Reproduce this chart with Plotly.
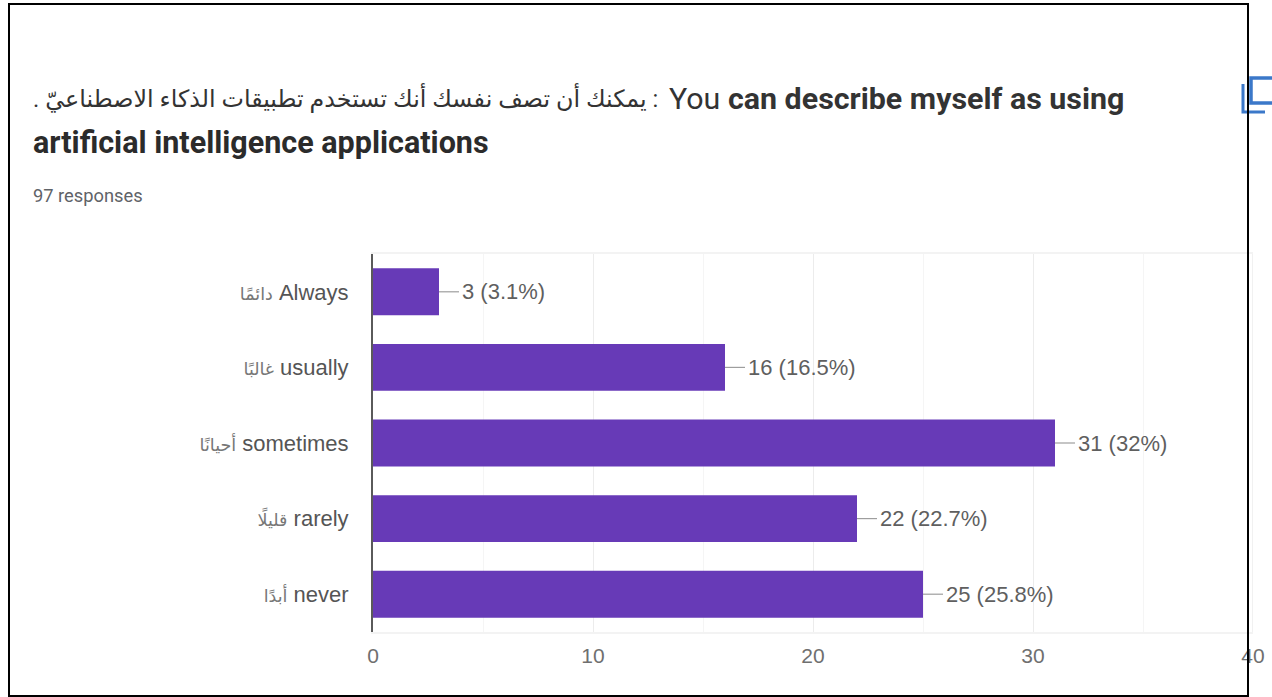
import plotly.graph_objects as go

# Survey results
arabic_names = ["دائمًا", "غالبًا", "أحيانًا", "قليلًا", "أبدًا"]
english_names = ["Always", "usually", "sometimes", "rarely", "never"]
counts = [3, 16, 31, 22, 25]
value_labels = ["3 (3.1%)", "16 (16.5%)", "31 (32%)", "22 (22.7%)", "25 (25.8%)"]
x_ticks = [0, 10, 20, 30, 40]
x_minor_ticks = [5, 15, 25, 35]

WIDTH, HEIGHT = 1272, 697
BAR_COLOR = "#673AB7"
ICON_COLOR = "#3b78c9"
BODY_FONT = "Liberation Sans, Arial, DejaVu Sans"
HEAD_FONT = "Roboto, DejaVu Sans"


def px(x):
    return x / WIDTH


def py(y):
    return 1 - y / HEIGHT


categories = english_names
tick_text = [
    f'<span style="font-size:17.5px;color:#777777">{ar}</span> {en}'
    for ar, en in zip(arabic_names, english_names)
]

fig = go.Figure()
fig.add_trace(go.Bar(
    y=categories,
    x=counts,
    orientation="h",
    width=0.62,
    marker=dict(color=BAR_COLOR, line=dict(width=0)),
    error_x=dict(type="constant", value=0.91, valueminus=0, symmetric=False,
                 color="#9e9e9e", thickness=1.2, width=0),
    hoverinfo="skip",
))

annotations = []
# Value labels to the right of each leader line
for value, label, cat in zip(counts, value_labels, categories):
    annotations.append(dict(
        x=value, y=cat, xref="x", yref="y", text=label, showarrow=False,
        xanchor="left", yanchor="middle", xshift=21,
        font=dict(family=BODY_FONT, size=22, color="#5f5f5f"),
    ))


def head(x, y, text, size, color, anchor="left", bold=False):
    annotations.append(dict(
        x=px(x), y=py(y), xref="paper", yref="paper", showarrow=False,
        text=f"<b>{text}</b>" if bold else text,
        xanchor=anchor, yanchor="middle", align="left",
        font=dict(family=HEAD_FONT, size=size, color=color),
    ))


# Heading lines
head(660, 98, ". يمكنك أن تصف نفسك أنك تستخدم تطبيقات الذكاء الاصطناعيّ :", 23.8, "#333333", anchor="right")
head(667, 98, "You <b>can describe myself as using</b>", 30.4, "#333333")
head(31, 142, "artificial intelligence applications", 30.5, "#2b2b2b", bold=True)
head(31, 195, "97 responses", 18.3, "#5f6368")

shapes = [
    # Right edge of the plot area
    dict(type="line", xref="x", yref="paper", x0=40, x1=40, y0=py(632), y1=py(254),
         line=dict(color="#f1f1f1", width=2), layer="below"),
    # Copy icon
    dict(type="rect", xref="paper", yref="paper", x0=px(1251), x1=px(1276), y0=py(78), y1=py(103),
         line=dict(color=ICON_COLOR, width=3.5), fillcolor="rgba(0,0,0,0)"),
    dict(type="path", xref="paper", yref="paper",
         path=f"M {px(1243)} {py(84)} L {px(1243)} {py(112)} L {px(1265)} {py(112)}",
         line=dict(color=ICON_COLOR, width=3)),
    # Outer frame
    dict(type="rect", xref="paper", yref="paper", x0=px(9), x1=px(1248), y0=py(4), y1=py(696),
         line=dict(color="#000000", width=2), fillcolor="rgba(0,0,0,0)", layer="above"),
]

fig.update_layout(
    width=WIDTH,
    height=HEIGHT,
    margin=dict(l=0, r=0, t=0, b=0, autoexpand=False),
    paper_bgcolor="#ffffff",
    plot_bgcolor="#ffffff",
    showlegend=False,
    annotations=annotations,
    shapes=shapes,
    xaxis=dict(
        domain=[px(373), px(1253)],
        range=[0, 40],
        tickvals=x_ticks,
        ticks="",
        showline=True,
        mirror=True,
        linecolor="#f3f3f3",
        linewidth=2,
        zeroline=False,
        showgrid=True,
        gridcolor="#ececec",
        gridwidth=1,
        minor=dict(tickvals=x_minor_ticks, showgrid=True, gridcolor="#f5f5f5", gridwidth=1),
        tickfont=dict(family=BODY_FONT, size=21, color="#6f6f6f"),
        ticklabelstandoff=4,
    ),
    yaxis=dict(
        domain=[py(632), py(254)],
        autorange="reversed",
        categoryorder="array",
        categoryarray=categories,
        tickvals=categories,
        ticktext=tick_text,
        ticks="",
        showline=True,
        linecolor="#5a5a5a",
        linewidth=2,
        showgrid=False,
        tickfont=dict(family=BODY_FONT, size=22, color="#555555"),
        ticklabelstandoff=18,
    ),
)

fig.write_html("out.html", config=dict(displayModeBar=False))
